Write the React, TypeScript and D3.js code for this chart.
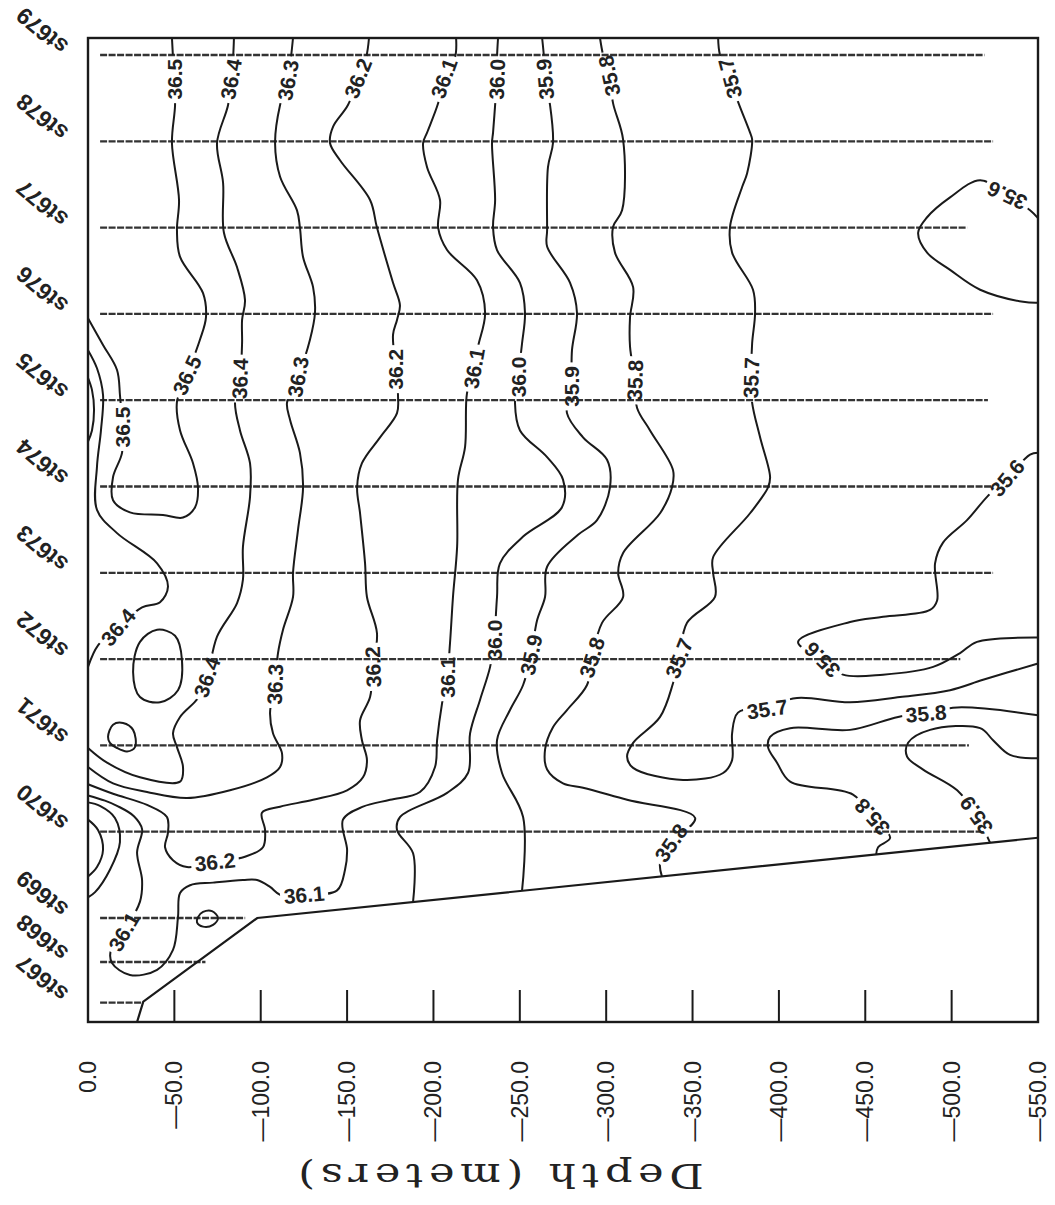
import React from "react";
import * as d3 from "d3";

type Pt = [number, number];

// stations along the section (position in station units, 0 = st679)
const stations = ["st679", "st678", "st677", "st676", "st675", "st674", "st673", "st672", "st671", "st670", "st669", "st668", "st667"];
const stationPos = [0, 1, 2, 3, 4, 5, 6, 7, 8, 9, 10, 10.51, 10.98];
const stationBottom = [-519, -524, -509, -524, -521, -524, -524, -505, -510, -517, -91, -68, -32];
const stationTop = -7;

const depthTicks = [0, -50, -100, -150, -200, -250, -300, -350, -400, -450, -500, -550];

const seabed: Pt[] = [[-28.4, 11.205], [-32, 10.97], [-98, 10.0], [-550, 9.07]];

// isohalines, [depth m, station position]
const c365a: Pt[] = [[-48.6, -0.2], [-49.2, 0.03], [-49.8, 0.28], [-50.4, 0.58], [-48.6, 1.02], [-52.7, 1.68], [-51.5, 2.03], [-53.3, 2.34], [-66.6, 2.76], [-68.3, 3.04], [-64.8, 3.3], [-57.3, 3.71], [-51.5, 4.02], [-53.3, 4.35], [-60.8, 4.73], [-63.7, 5.02], [-62, 5.24], [-55, 5.36], [-43.4, 5.33], [-24.3, 5.3], [-14.5, 5.16], [-14.5, 4.89], [-19.7, 4.61], [-19.7, 4.31], [-18.5, 3.94], [-16.8, 3.65], [-8.7, 3.36], [0, 3.05]];
const c366: Pt[] = [[0, 3.74], [-2.3, 3.88], [-3.5, 4.11], [-2.3, 4.35], [0, 4.48]];
const c364b: Pt[] = [[0, 3.42], [-5.2, 3.63], [-8.7, 3.94], [-7.5, 4.35], [-5.2, 4.77], [-5.2, 5.27], [-16.8, 5.54], [-40, 5.89], [-46.3, 6.16], [-41.7, 6.34], [-31.3, 6.4], [-17.4, 6.63], [-5.8, 6.84], [0, 7.09]];
const c364a: Pt[] = [[-84.5, -0.2], [-84, 0.03], [-82.8, 0.28], [-81.1, 0.58], [-74.7, 1.02], [-78.2, 1.48], [-78.7, 2.06], [-86.3, 2.46], [-90.9, 2.84], [-89.2, 3.07], [-89.2, 3.34], [-88, 3.75], [-85.1, 4.03], [-88, 4.35], [-93.8, 4.73], [-93.8, 5.12], [-89.7, 5.7], [-89.7, 6.08], [-86.3, 6.35], [-74.7, 6.74], [-68.9, 7.21], [-63.7, 7.45], [-53.3, 7.67], [-49.2, 7.86], [-51.5, 8.02], [-55, 8.25], [-53.3, 8.42], [-30.1, 8.37], [-11, 8.2], [0, 8.03]];
const c364c: Pt[] = [[-40, 6.66], [-50.4, 6.73], [-54.4, 7.01], [-52.1, 7.36], [-41.7, 7.5], [-30.1, 7.44], [-26.1, 7.15], [-30.1, 6.8]];
const c364d: Pt[] = [[-11.6, 7.9], [-14.5, 7.76], [-20.3, 7.74], [-26.1, 7.82], [-27.2, 8.02], [-22.6, 8.07], [-16.8, 8.03], [-12.7, 7.97]];
const c361c: Pt[] = [[-63.7, 9.99], [-66.6, 9.93], [-71.8, 9.92], [-75.3, 10.0], [-72.4, 10.08], [-66.6, 10.1], [-63.1, 10.05]];
const c363: Pt[] = [[-118.7, -0.2], [-117.5, 0.03], [-115.8, 0.29], [-111.2, 0.58], [-108.3, 1.02], [-111.2, 1.41], [-121, 1.8], [-122.7, 2.0], [-124.5, 2.34], [-130.3, 2.69], [-131.4, 2.99], [-128.5, 3.3], [-121.6, 3.73], [-115.2, 4.03], [-117, 4.23], [-122.7, 4.61], [-124.5, 5.01], [-121.6, 5.5], [-118.7, 6.0], [-118.7, 6.28], [-112.9, 6.66], [-110, 6.93], [-108.3, 7.29], [-105.4, 7.62], [-107.1, 7.86], [-112.3, 8.09], [-111.2, 8.25], [-103.6, 8.37], [-82.2, 8.52], [-57.3, 8.61], [-34.2, 8.54], [-14.5, 8.44], [0, 8.25]];
const c362: Pt[] = [[-162.7, -0.2], [-161, 0.03], [-156.3, 0.27], [-150.5, 0.58], [-141.9, 0.83], [-140.1, 1.02], [-145.9, 1.22], [-163.3, 1.68], [-167.3, 2.0], [-176.6, 2.64], [-180.6, 2.9], [-178.9, 3.07], [-176.6, 3.24], [-178.3, 3.64], [-179.5, 3.96], [-178.9, 4.15], [-169.1, 4.43], [-158.6, 4.73], [-155.8, 5.01], [-157.5, 5.31], [-160.4, 5.89], [-161.5, 6.28], [-167.3, 6.7], [-165, 7.09], [-163.3, 7.44], [-157.5, 7.71], [-158.6, 7.94], [-161.5, 8.17], [-159.2, 8.37], [-150, 8.52], [-130.3, 8.63], [-111.2, 8.71], [-100.7, 8.78], [-102.5, 8.98], [-101.3, 9.18], [-90.9, 9.29], [-73.5, 9.35], [-57.3, 9.41], [-49.2, 9.33], [-44.6, 9.18], [-46.3, 9.01], [-45.7, 8.83], [-34.2, 8.69], [-14.5, 8.56], [0, 8.45]];
const c361: Pt[] = [[-213.1, -0.2], [-212.5, 0.03], [-206.1, 0.27], [-202.7, 0.56], [-196.3, 0.9], [-194, 1.02], [-196.3, 1.3], [-203.8, 1.68], [-202.7, 2.0], [-207.9, 2.26], [-225.2, 2.61], [-229.9, 2.99], [-225.8, 3.38], [-223.5, 3.63], [-219.4, 3.92], [-218.3, 4.54], [-214.2, 4.92], [-213.7, 5.7], [-211.3, 6.28], [-209.6, 6.81], [-207.9, 7.21], [-205, 7.51], [-202.1, 7.94], [-200.9, 8.25], [-192.2, 8.54], [-174.9, 8.63], [-159.2, 8.71], [-147.6, 8.86], [-150, 9.21], [-148.8, 9.44], [-144.2, 9.68], [-125.1, 9.73], [-111.2, 9.73], [-105.4, 9.64], [-97.9, 9.56], [-89.7, 9.56], [-72.4, 9.59], [-59.1, 9.62], [-53.3, 9.71], [-52.1, 9.99], [-49.2, 10.37], [-40, 10.6], [-24.3, 10.66], [-13.9, 10.52], [-13.3, 10.37], [-20.8, 10.16], [-30.1, 9.81], [-31.3, 9.56], [-28.4, 9.24], [-31.3, 8.97], [-26.6, 8.82], [-16.8, 8.7], [-9.8, 8.64], [0, 8.58]];
const c360b: Pt[] = [[0, 8.66], [-6.9, 8.7], [-15.6, 8.84], [-18.5, 9.12], [-12.7, 9.44], [-4.1, 9.7], [0, 9.76]];
const c359b: Pt[] = [[0, 8.86], [-5.8, 8.98], [-8.7, 9.21], [-5.2, 9.41], [0, 9.52]];
const c360: Pt[] = [[-237.4, -0.2], [-236.8, 0.03], [-236.8, 0.28], [-235.7, 0.58], [-234.5, 0.9], [-233.9, 1.02], [-235.7, 1.68], [-234.5, 2.0], [-236.8, 2.26], [-250.1, 2.64], [-253, 2.99], [-251.3, 3.34], [-249, 3.73], [-247.2, 4.03], [-250.1, 4.35], [-265.8, 4.66], [-275, 4.92], [-274.4, 5.24], [-251.9, 5.58], [-238.5, 5.89], [-236.8, 6.28], [-235.1, 6.78], [-232.8, 7.09], [-227, 7.47], [-221.2, 7.86], [-220, 8.32], [-207.9, 8.55], [-180.6, 8.83], [-178.9, 8.98], [-188.2, 9.25], [-188.2, 9.81]];
const c359: Pt[] = [[-262.9, -0.2], [-264, 0.03], [-264.6, 0.28], [-267.5, 0.58], [-269.2, 1.02], [-266.3, 1.3], [-265.8, 2.03], [-265.8, 2.22], [-279.1, 2.64], [-283.1, 2.99], [-280.2, 3.42], [-279.7, 3.84], [-277.3, 4.15], [-286.6, 4.43], [-300.5, 4.69], [-302.2, 5.01], [-294.7, 5.39], [-283.7, 5.56], [-265.8, 5.93], [-264.6, 6.28], [-260, 6.55], [-256.5, 6.95], [-251.9, 7.3], [-244.3, 7.59], [-236.8, 7.94], [-239.7, 8.32], [-251.9, 8.83], [-251.3, 9.68]];
const c358: Pt[] = [[-296.4, -0.2], [-298.2, 0.0], [-301.7, 0.24], [-304, 0.56], [-309.8, 0.98], [-309.2, 1.8], [-304, 1.99], [-305.1, 2.29], [-315.6, 2.69], [-313.8, 3.04], [-313.8, 3.38], [-316.7, 3.77], [-317.9, 4.09], [-325.4, 4.35], [-338.7, 4.81], [-338.1, 5.01], [-331.2, 5.31], [-309.8, 5.77], [-306.9, 6.0], [-309.8, 6.28], [-297.6, 6.58], [-291.8, 6.98], [-288.9, 7.3], [-277.3, 7.59], [-269.2, 7.79], [-264.6, 8.05], [-265.8, 8.28], [-275, 8.44], [-286.6, 8.49], [-312.1, 8.63], [-351.5, 8.84], [-337.6, 9.13], [-331.2, 9.36], [-332.3, 9.52]];
const c357: Pt[] = [[-364.8, -0.2], [-365.9, 0.0], [-371.7, 0.27], [-376.3, 0.54], [-383.3, 0.9], [-384.5, 0.98], [-381.6, 1.37], [-378.7, 1.53], [-371.7, 1.99], [-372.9, 2.29], [-385, 2.72], [-386.2, 2.99], [-384.5, 3.34], [-383.9, 3.74], [-384.5, 4.03], [-389.1, 4.43], [-394.9, 4.89], [-393.7, 5.01], [-383.3, 5.31], [-361.9, 5.82], [-361.9, 6.0], [-363, 6.28], [-346.8, 6.58], [-342.2, 6.99], [-338.7, 7.28], [-331.2, 7.67], [-315.6, 7.97], [-312.1, 8.13], [-315.6, 8.26], [-344.5, 8.4], [-367.7, 8.32], [-372.9, 8.17], [-372.9, 7.86], [-376.3, 7.62], [-392.6, 7.55], [-410.5, 7.45], [-441.2, 7.5], [-470.1, 7.44], [-499.1, 7.36], [-518.2, 7.24], [-550, 7.05]];
const c356a: Pt[] = [[-550, 1.89], [-545.4, 1.8], [-532.1, 1.62], [-516.5, 1.45], [-499.1, 1.65], [-485.8, 1.88], [-480.6, 2.06], [-485.8, 2.29], [-499.1, 2.49], [-516.5, 2.72], [-541.4, 2.86], [-550, 2.87]];
const c356b: Pt[] = [[-550, 4.61], [-545.4, 4.63], [-532.1, 4.9], [-520.5, 5.12], [-508.9, 5.39], [-495, 5.65], [-490.4, 5.89], [-491.6, 6.32], [-487.5, 6.43], [-460.3, 6.51], [-441.2, 6.57], [-411.1, 6.8], [-425, 7.01], [-437.1, 7.18], [-460.3, 7.18], [-489.3, 7.09], [-504.9, 6.93], [-514.7, 6.8], [-550, 6.75]];
const c358b: Pt[] = [[-550, 7.65], [-503.2, 7.56], [-485.2, 7.63], [-469, 7.67], [-441.2, 7.82], [-406.5, 7.8], [-394.9, 7.9], [-393.7, 8.02], [-398.9, 8.2], [-406.5, 8.42], [-442.9, 8.57], [-453.9, 8.83], [-464.4, 9.07], [-457.4, 9.18], [-456.3, 9.27]];
const c359c: Pt[] = [[-550, 8.15], [-533.8, 8.11], [-524, 7.94], [-516.5, 7.8], [-487.5, 7.82], [-474.8, 7.97], [-474.2, 8.13], [-483.5, 8.28], [-503.2, 8.52], [-514.2, 8.81], [-522.3, 9.13]];

const contours: { pts: Pt[]; closed?: boolean }[] = [
  { pts: c365a }, { pts: c366 }, { pts: c364a }, { pts: c364b }, { pts: c364c, closed: true },
  { pts: c364d, closed: true }, { pts: c361c, closed: true }, { pts: c363 }, { pts: c362 },
  { pts: c361 }, { pts: c360b }, { pts: c359b }, { pts: c360 }, { pts: c359 }, { pts: c358 },
  { pts: c357 }, { pts: c356a }, { pts: c356b }, { pts: c358b }, { pts: c359c },
];

// contour labels: text, depth, station position, angle
const labelText = ["36.5", "36.4", "36.3", "36.2", "36.1", "36.0", "35.9", "35.8", "35.7", "35.6",
  "36.5", "36.4", "36.3", "36.2", "36.1", "36.0", "35.9", "35.8", "35.7", "36.5", "35.6", "36.4",
  "36.4", "36.3", "36.2", "36.1", "36.0", "35.9", "35.8", "35.7", "35.6", "35.7", "35.8", "36.2",
  "36.1", "36.1", "35.8", "35.8", "35.9"];
const labelDepth = [-49.8, -82.8, -115.8, -156.3, -206.1, -236.8, -264.6, -301.7, -371.7, -532.1,
  -57.3, -88, -121.6, -178.3, -223.5, -249, -279.7, -316.7, -383.9, -19.7, -532.1, -17.4,
  -68.9, -108.3, -165, -207.9, -235.1, -256.5, -291.8, -342.2, -425, -393.2, -485.2, -73.5,
  -125.1, -20.8, -337.6, -453.9, -514.2];
const labelPos = [0.28, 0.28, 0.29, 0.27, 0.27, 0.28, 0.28, 0.24, 0.27, 1.63,
  3.71, 3.75, 3.73, 3.64, 3.63, 3.73, 3.84, 3.77, 3.74, 4.31, 4.9, 6.63,
  7.21, 7.29, 7.09, 7.21, 6.78, 6.95, 6.98, 6.99, 7.01, 7.58, 7.63, 9.35,
  9.73, 10.16, 9.13, 8.83, 8.81];
const labelAngle = [-90, -80, -80, -68, -70, -88, -95, -102, -105, 205,
  -65, -88, -80, -90, -80, -90, -90, -88, -88, -90, -50, -50,
  -70, -88, -92, -90, -90, -78, -72, -68, 225, -8, -5, -6,
  -5, -60, -55, 228, 235];

const sans = "'Liberation Sans', Arial, Helvetica, sans-serif";

export default function App() {
  const x = d3.scaleLinear().domain([0, -550]).range([88, 1038]);
  const y = d3.scaleLinear().domain([-0.197, 11.205]).range([38, 1022]);
  const [x0, x1] = x.range();
  const [y0, y1] = y.range();

  const line = d3.line<Pt>().x((d) => x(d[0])).y((d) => y(d[1])).curve(d3.curveCatmullRom.alpha(0.5));
  const loop = d3.line<Pt>().x((d) => x(d[0])).y((d) => y(d[1])).curve(d3.curveCatmullRomClosed.alpha(0.5));
  const straight = d3.line<Pt>().x((d) => x(d[0])).y((d) => y(d[1]));

  const fs = 21;
  const lw = 48;
  const lh = 20;

  return (
    <div style={{ position: "absolute", left: 0, top: 0 }}>
      <svg width={1055} height={1205} style={{ display: "block", background: "#fff" }}>
        <defs>
          <mask id="lblmask" maskUnits="userSpaceOnUse" x={0} y={0} width={1055} height={1205}>
            <rect x={0} y={0} width={1055} height={1205} fill="white" />
            {labelText.map((t, i) => (
              <rect key={i} transform={`translate(${x(labelDepth[i])},${y(labelPos[i])}) rotate(${labelAngle[i]})`}
                x={-lw / 2} y={-lh / 2} width={lw} height={lh} fill="black" />
            ))}
          </mask>
        </defs>

        {/* station tracks */}
        {stations.map((s, i) => (
          <g key={s}>
            <line x1={x(stationTop)} x2={x(stationBottom[i])} y1={y(stationPos[i])} y2={y(stationPos[i])}
              stroke="#333" strokeWidth={2.3} strokeDasharray="7 1.5" />
            <text transform={`translate(42,${y(stationPos[i]) - 24}) rotate(220)`} textAnchor="middle"
              dominantBaseline="central" fontFamily={sans} fontWeight="bold" fontSize={23} fill="#222">{s}</text>
          </g>
        ))}

        {/* isohalines */}
        <g mask="url(#lblmask)" fill="none" stroke="#1a1a1a" strokeWidth={2}>
          {contours.map((c, i) => (
            <path key={i} d={(c.closed ? loop(c.pts) : line(c.pts)) || ""} />
          ))}
        </g>
        {labelText.map((t, i) => (
          <text key={i} transform={`translate(${x(labelDepth[i])},${y(labelPos[i])}) rotate(${labelAngle[i]})`}
            textAnchor="middle" dominantBaseline="central" fontFamily={sans} fontWeight="bold"
            fontSize={fs} fill="#222">{t}</text>
        ))}

        {/* bottom */}
        <path d={straight(seabed) || ""} fill="none" stroke="#1a1a1a" strokeWidth={2.2} />

        {/* frame and ticks */}
        <rect x={x0} y={y0} width={x1 - x0} height={y1 - y0} fill="none" stroke="#1a1a1a" strokeWidth={2.4} />
        {depthTicks.filter((t) => t !== 0 && t !== -550).map((t) => (
          <line key={t} x1={x(t)} x2={x(t)} y1={y1 - 32} y2={y1} stroke="#1a1a1a" strokeWidth={2} />
        ))}
        {depthTicks.map((t) => (
          <text key={t} transform={`translate(${x(t)},1061) rotate(-90)`} textAnchor="end" dominantBaseline="central"
            fontFamily={sans} fontSize={23} fill="#222">
            {t === 0 ? "0.0" : "\u2014" + Math.abs(t).toFixed(1)}
          </text>
        ))}
        <text transform="translate(501,1176) rotate(180) scale(1.3,1)" textAnchor="middle" dominantBaseline="central"
          fontFamily="'DejaVu Serif', 'Liberation Serif', serif" fontSize={33} fill="#222"
          textLength={312} lengthAdjust="spacing">Depth  (meters)</text>
      </svg>
    </div>
  );
}
